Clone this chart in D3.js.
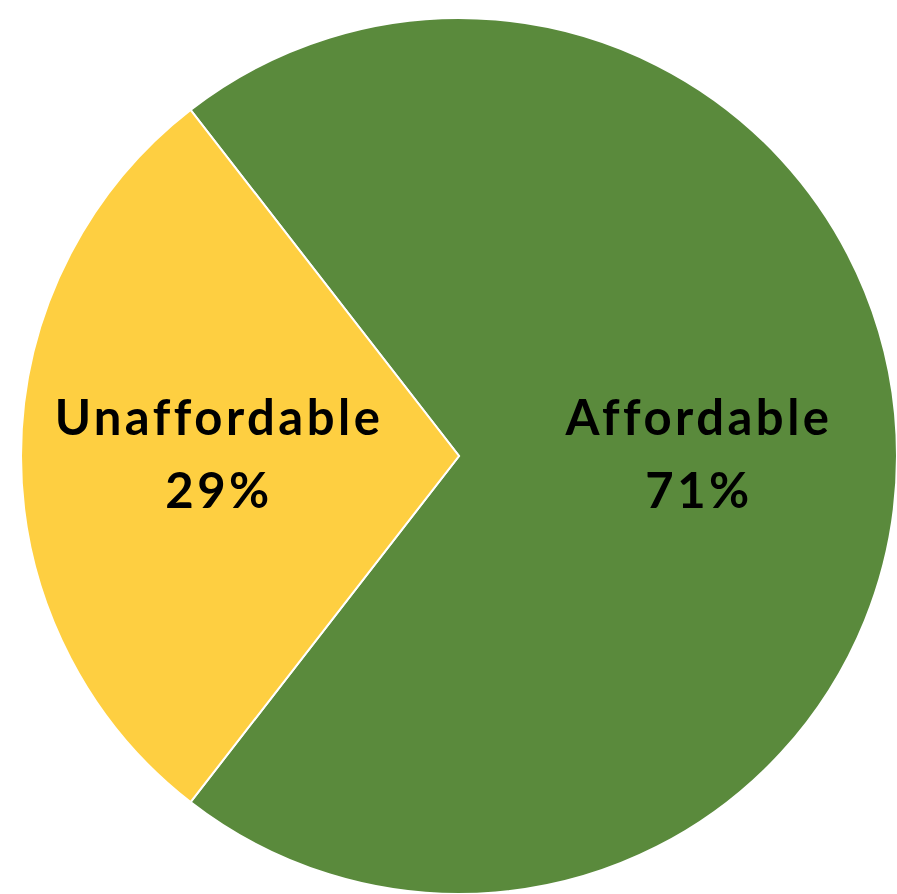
<!DOCTYPE html>
<html>
<head>
<meta charset="utf-8">
<script src="https://cdn.jsdelivr.net/npm/d3@7"></script>
<style>
  html, body { margin: 0; padding: 0; background: #ffffff; }
  svg { display: block; }
</style>
</head>
<body>
<svg id="chart" width="897" height="894"></svg>
<script>
// Share of households by affordability
const categories = ["Affordable", "Unaffordable"];
const shares = [71, 29];
const sliceColors = ["#5A8A3C", "#FECF41"];

const width = 897, height = 894;
const cx = 459, cy = 456, radius = 438;

const svg = d3.select("#chart");
const g = svg.append("g").attr("transform", `translate(${cx},${cy})`);

// Rotate so the smaller slice sits centred on the left side (9 o'clock)
const data = categories.map((c, i) => ({ name: c, value: shares[i] }));
const total = d3.sum(shares);
const end = (Math.PI * 3 / 2) + (shares[1] / total) * Math.PI;
const pie = d3.pie()
  .sort(null)
  .value(d => d.value)
  .startAngle(end - 2 * Math.PI)
  .endAngle(end);

const arcs = pie(data);
const arc = d3.arc().innerRadius(0).outerRadius(radius);
const color = d3.scaleOrdinal().domain(categories).range(sliceColors);

g.selectAll("path")
  .data(arcs)
  .join("path")
  .attr("d", arc)
  .attr("fill", d => color(d.data.name))
  .attr("stroke", "#ffffff")
  .attr("stroke-width", 2);

const labelArc = d3.arc().innerRadius(240).outerRadius(240);

const labels = g.selectAll("text.label")
  .data(arcs)
  .join("text")
  .attr("class", "label")
  .attr("transform", d => {
    const [x, y] = labelArc.centroid(d);
    return `translate(${x},${y})`;
  })
  .attr("text-anchor", "middle")
  .style("font-family", "Lato, 'Open Sans', sans-serif")
  .style("font-weight", "700")
  .style("font-size", "49px")
  .style("letter-spacing", "3.5px")
  .attr("fill", "#000000");

labels.append("tspan")
  .attr("x", 0)
  .attr("dy", -21)
  .text(d => d.data.name);

labels.append("tspan")
  .attr("x", 0)
  .attr("dy", 73)
  .text(d => `${d.data.value}%`);
</script>
</body>
</html>
